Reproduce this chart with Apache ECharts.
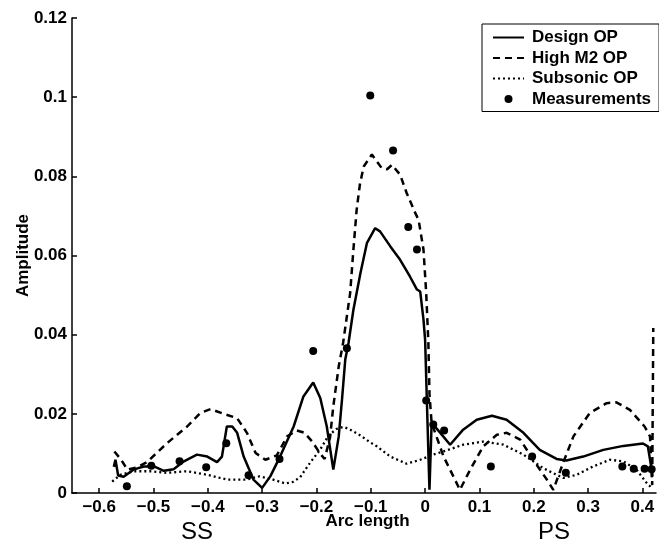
<!DOCTYPE html>
<html>
<head>
<meta charset="utf-8">
<script src="https://cdn.jsdelivr.net/npm/echarts@6/dist/echarts.min.js"></script>
<style>
  html, body { margin: 0; padding: 0; background: #fff; }
  #chart { width: 659px; height: 545px; }
</style>
</head>
<body>
<div id="chart"></div>
<script>
const seriesNames = ["Design OP", "High M2 OP", "Subsonic OP", "Measurements"];
const xTicks = [-0.6, -0.5, -0.4, -0.3, -0.2, -0.1, 0, 0.1, 0.2, 0.3, 0.4];

const designOP = [
    [-0.573, 0.0066], [-0.570, 0.0084], [-0.565, 0.0044], [-0.555, 0.0041], [-0.537, 0.0059],
    [-0.518, 0.0067], [-0.499, 0.0067], [-0.481, 0.0056], [-0.463, 0.0060], [-0.444, 0.0080],
    [-0.420, 0.0097], [-0.401, 0.0092], [-0.383, 0.0078], [-0.374, 0.0092], [-0.365, 0.0168],
    [-0.355, 0.0168], [-0.346, 0.0152], [-0.334, 0.0092], [-0.316, 0.0034], [-0.300, 0.0013],
    [-0.285, 0.0042], [-0.267, 0.0092], [-0.242, 0.0168], [-0.224, 0.0244], [-0.206, 0.0279],
    [-0.193, 0.0240], [-0.181, 0.0168], [-0.169, 0.0059], [-0.159, 0.0143], [-0.153, 0.0236],
    [-0.147, 0.0337], [-0.141, 0.0379], [-0.132, 0.0463], [-0.119, 0.0556], [-0.107, 0.0632],
    [-0.092, 0.0669], [-0.083, 0.0661], [-0.064, 0.0623], [-0.046, 0.0589], [-0.028, 0.0547],
    [-0.015, 0.0514], [-0.009, 0.0509], [-0.003, 0.0438], [0.000, 0.0387], [0.003, 0.0244],
    [0.008, 0.0008], [0.012, 0.0177], [0.028, 0.0152], [0.046, 0.0122], [0.070, 0.0160],
    [0.095, 0.0185], [0.123, 0.0195], [0.150, 0.0185], [0.181, 0.0152], [0.211, 0.0109],
    [0.242, 0.0086], [0.260, 0.0082], [0.291, 0.0092], [0.328, 0.0109], [0.365, 0.0119],
    [0.401, 0.0125], [0.410, 0.0118], [0.417, 0.0059], [0.418, 0.0040]
];

const highM2OP = [
    [-0.572, 0.0105], [-0.560, 0.0085], [-0.548, 0.0059], [-0.530, 0.0065], [-0.512, 0.0078],
    [-0.475, 0.0126], [-0.438, 0.0168], [-0.414, 0.0202], [-0.395, 0.0212], [-0.371, 0.0200],
    [-0.346, 0.0189], [-0.328, 0.0152], [-0.312, 0.0101], [-0.294, 0.0084], [-0.273, 0.0095],
    [-0.254, 0.0143], [-0.236, 0.0158], [-0.222, 0.0152], [-0.208, 0.0130], [-0.193, 0.0099],
    [-0.185, 0.0086], [-0.175, 0.0140], [-0.169, 0.0219], [-0.159, 0.0320], [-0.151, 0.0379],
    [-0.138, 0.0505], [-0.132, 0.0615], [-0.126, 0.0716], [-0.120, 0.0780], [-0.113, 0.0825],
    [-0.098, 0.0855], [-0.080, 0.0821], [-0.070, 0.0818], [-0.061, 0.0829], [-0.046, 0.0804],
    [-0.034, 0.0758], [-0.018, 0.0707], [-0.012, 0.0690], [-0.003, 0.0615], [0.002, 0.0505],
    [0.006, 0.0379], [0.008, 0.0250], [0.012, 0.0177], [0.034, 0.0092], [0.052, 0.0042],
    [0.064, 0.0008], [0.083, 0.0059], [0.107, 0.0118], [0.132, 0.0147], [0.150, 0.0152],
    [0.175, 0.0135], [0.199, 0.0084], [0.224, 0.0034], [0.236, 0.0008], [0.254, 0.0076],
    [0.273, 0.0143], [0.303, 0.0202], [0.334, 0.0227], [0.352, 0.0229], [0.377, 0.0210],
    [0.404, 0.0168], [0.414, 0.0143], [0.418, 0.0020], [0.420, 0.0417]
];

const subsonicOP = [
    [-0.576, 0.0029], [-0.561, 0.0046], [-0.536, 0.0055], [-0.506, 0.0055], [-0.475, 0.0051],
    [-0.438, 0.0055], [-0.401, 0.0046], [-0.365, 0.0034], [-0.328, 0.0034], [-0.305, 0.0042],
    [-0.285, 0.0036], [-0.257, 0.0024], [-0.243, 0.0028], [-0.230, 0.0040], [-0.212, 0.0076],
    [-0.193, 0.0110], [-0.178, 0.0145], [-0.163, 0.0162], [-0.150, 0.0167], [-0.138, 0.0160],
    [-0.119, 0.0145], [-0.101, 0.0128], [-0.089, 0.0118], [-0.064, 0.0092], [-0.034, 0.0074],
    [-0.009, 0.0084], [0.015, 0.0097], [0.034, 0.0105], [0.070, 0.0122], [0.107, 0.0130],
    [0.144, 0.0122], [0.181, 0.0097], [0.217, 0.0063], [0.254, 0.0038], [0.279, 0.0046],
    [0.309, 0.0067], [0.340, 0.0084], [0.365, 0.0080], [0.389, 0.0059], [0.408, 0.0025],
    [0.417, 0.0013]
];

const measurements = [
    [-0.549, 0.0017], [-0.504, 0.0069], [-0.452, 0.0080], [-0.403, 0.0065], [-0.366, 0.0126],
    [-0.325, 0.0045], [-0.268, 0.0086], [-0.206, 0.0359], [-0.144, 0.0366], [-0.101, 0.1004],
    [-0.059, 0.0865], [-0.031, 0.0672], [-0.015, 0.0615], [0.002, 0.0234], [0.015, 0.0173],
    [0.035, 0.0158], [0.121, 0.0067], [0.197, 0.0092], [0.259, 0.0051], [0.363, 0.0067],
    [0.384, 0.0061], [0.404, 0.0061], [0.417, 0.0060]
];

const font = "'Liberation Sans', Arial, Helvetica, sans-serif";
const black = "#000";
const clear = "rgba(0,0,0,0)";

const chart = echarts.init(document.getElementById("chart"));

const lineSeries = (name, data, type, width) => ({
    name,
    type: "line",
    data,
    symbol: "none",
    lineStyle: { color: black, width, type },
    itemStyle: { color: black },
    emphasis: { disabled: true },
    z: 2
});

// line entries get no dot in the legend, only the stroke
const legendData = seriesNames.map((name, i) =>
    i < 3 ? { name, itemStyle: { color: clear, borderColor: clear, borderWidth: 0 } } : { name }
);

const option = {
    animation: false,
    backgroundColor: "#fff",
    textStyle: { fontFamily: font },
    grid: { left: 72, right: 3, top: 18, bottom: 52, outerBoundsMode: "none" },
    legend: {
        orient: "vertical",
        left: 482,
        top: 24,
        padding: [5, 8, 4, 10],
        itemGap: 3.5,
        itemWidth: 31,
        itemHeight: 8,
        borderColor: black,
        borderWidth: 1,
        backgroundColor: "#fff",
        textStyle: { fontFamily: font, fontSize: 17, fontWeight: "bold", color: black, padding: [0, 0, 0, 3] },
        data: legendData
    },
    xAxis: {
        type: "value",
        min: -0.65,
        max: 0.425,
        name: "Arc length",
        nameLocation: "middle",
        nameGap: 20,
        nameMoveOverlap: false,
        nameTextStyle: { fontFamily: font, fontSize: 17, fontWeight: "bold", color: black, padding: [0, 0, 0, 7] },
        axisLine: { show: true, onZero: false, lineStyle: { color: black, width: 1.5 } },
        axisTick: { show: true, inside: true, length: 5, customValues: xTicks, lineStyle: { color: black, width: 1.5 } },
        axisLabel: {
            customValues: xTicks,
            margin: 6,
            fontFamily: font,
            fontSize: 17,
            fontWeight: "bold",
            color: black,
            formatter: (v) => String(v).replace("-", "\u2212")
        },
        splitLine: { show: false }
    },
    yAxis: {
        type: "value",
        min: 0,
        max: 0.12,
        interval: 0.02,
        name: "Amplitude",
        nameLocation: "middle",
        nameGap: 40,
        nameMoveOverlap: false,
        nameTextStyle: { fontFamily: font, fontSize: 17, fontWeight: "bold", color: black },
        axisLine: { show: true, onZero: false, lineStyle: { color: black, width: 1.5 } },
        axisTick: { show: true, inside: true, length: 5, lineStyle: { color: black, width: 1.5 } },
        axisLabel: { margin: 5, fontFamily: font, fontSize: 17, fontWeight: "bold", color: black },
        splitLine: { show: false }
    },
    graphic: [
        { type: "text", left: 181, top: 520, style: { text: "SS", font: "24px " + font, fill: black } },
        { type: "text", left: 538, top: 520, style: { text: "PS", font: "24px " + font, fill: black } }
    ],
    series: [
        lineSeries(seriesNames[0], designOP, "solid", 2.5),
        lineSeries(seriesNames[1], highM2OP, [7, 5], 2.5),
        lineSeries(seriesNames[2], subsonicOP, [2, 3], 2.3),
        {
            name: seriesNames[3],
            type: "scatter",
            data: measurements,
            symbol: "circle",
            symbolSize: 8,
            itemStyle: { color: black, opacity: 1 },
            emphasis: { disabled: true },
            z: 3
        }
    ]
};

chart.setOption(option);
</script>
</body>
</html>
